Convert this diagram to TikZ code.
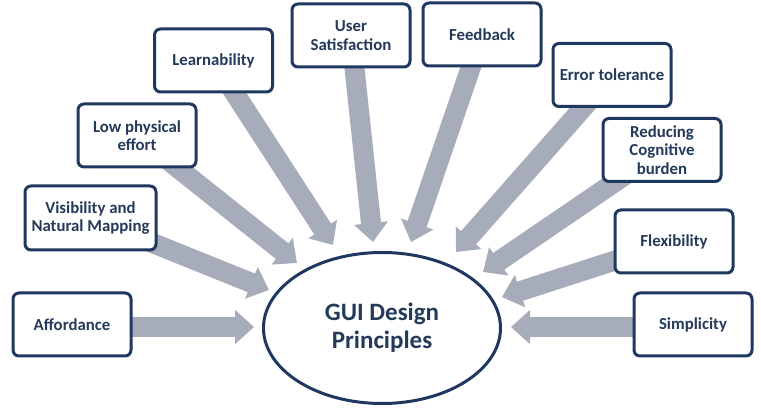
\documentclass[tikz,border=0pt]{standalone}
\usepackage{fontspec}
\setmainfont{Carlito}
\usetikzlibrary{shapes.geometric,arrows.meta,backgrounds}
\definecolor{navy}{RGB}{31,56,96}
\definecolor{txtnavy}{RGB}{36,58,90}
\definecolor{arrowgray}{RGB}{166,172,186}
\tikzset{
  box/.style={draw=navy, line width=3pt, rounded corners=6pt, fill=white,
    minimum width=118pt, minimum height=63pt, inner sep=2pt, align=center,
    text=txtnavy, font=\fontsize{16.8}{18.5}\selectfont\bfseries},
  hub/.style={draw=navy, line width=3pt, ellipse, fill=white, inner sep=0pt,
    minimum width=237pt, minimum height=151pt, align=center, text=txtnavy,
    font=\fontsize{25}{28}\selectfont\bfseries},
  blockarrow/.style={draw=arrowgray, line width=20pt,
    -{Triangle[width=33pt,length=19pt]}}
}
\begin{document}
\begin{tikzpicture}[x=1pt,y=-1pt]
\useasboundingbox (0,0) rectangle (761,411);
% boxes
\node[box] (aff) at (72,324.5) {Affordance};
\node[box, minimum width=131pt, minimum height=64pt] (vis) at (90.5,218) {Visibility and\\Natural Mapping};
\node[box] (lpe) at (137,135.5) {Low physical\\effort};
\node[box] (lea) at (213.5,60.5) {Learnability};
\node[box] (usr) at (351,35.5) {User\\Satisfaction};
\node[box] (fbk) at (482,34.5) {Feedback};
\node[box] (err) at (612,75) {Error tolerance};
\node[box] (red) at (662,150) {Reducing\\Cognitive\\burden};
\node[box] (flx) at (674,241.5) {Flexibility};
\node[box] (smp) at (693,324.5) {Simplicity};
% centre
\node[hub] (gui) at (382,328) {GUI Design\\Principles};
% arrow tips
\coordinate (tAff) at (254,327);
\coordinate (tVis) at (269,290);
\coordinate (tLpe) at (297,263);
\coordinate (tLea) at (333,245);
\coordinate (tUsr) at (373,242);
\coordinate (tFbk) at (411,242);
\coordinate (tErr) at (456,252);
\coordinate (tRed) at (483,272);
\coordinate (tFlx) at (502,297);
\coordinate (tSmp) at (511,327);
\begin{scope}[on background layer]
\draw[blockarrow] (aff.center |- tAff) -- (tAff);
\draw[blockarrow] (vis.center) -- (tVis);
\draw[blockarrow] (lpe.center) -- (tLpe);
\draw[blockarrow] (lea.center) -- (tLea);
\draw[blockarrow] (usr.center) -- (tUsr);
\draw[blockarrow] (fbk.center) -- (tFbk);
\draw[blockarrow] (err.center) -- (tErr);
\draw[blockarrow] (red.center) -- (tRed);
\draw[blockarrow] (flx.center) -- (tFlx);
\draw[blockarrow] (smp.center |- tSmp) -- (tSmp);
\end{scope}
\end{tikzpicture}
\end{document}
